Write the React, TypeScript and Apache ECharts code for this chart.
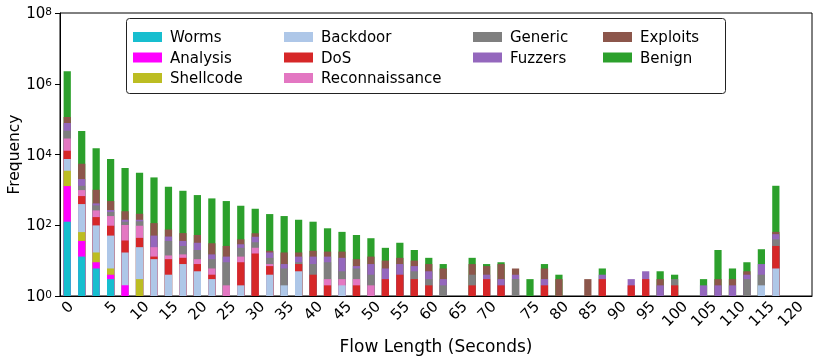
import { useEffect, useRef } from 'react';
import * as echarts from 'echarts';

const categories = ['Worms', 'Analysis', 'Shellcode', 'Backdoor', 'DoS', 'Reconnaissance', 'Generic', 'Fuzzers', 'Exploits', 'Benign'];
const colors = ['#17becf', '#ff00ff', '#bcbd22', '#aec7e8', '#d62728', '#e377c2', '#7f7f7f', '#9467bd', '#8c564b', '#2ca02c'];

// x axis slots (one per bin, plus empty room at the right)
const slotCount = 52;
const xTickIndex = [0, 3, 5, 7, 9, 11, 13, 15, 17, 19, 21, 23, 25, 27, 29, 32, 34, 36, 38, 40, 42, 44, 46, 48, 50];
const xTickLabels = ['0', '5', '10', '15', '20', '25', '30', '35', '40', '45', '50', '55', '60', '65', '70', '75', '80', '85', '90', '95', '100', '105', '110', '115', '120'];

const worms = [126, 13, 6, 3, 0, 0, 0, 0, 0, 0, 0, 0, 0, 0, 0, 0, 0, 0, 0, 0, 0, 0, 0, 0, 0, 0, 0, 0, 0, 0, 0, 0, 0, 0, 0, 0, 0, 0, 0, 0, 0, 0, 0, 0, 0, 0, 0, 0, 0, 0];
const analysis = [1154, 23, 3, 1, 2, 0, 0, 0, 0, 0, 0, 0, 0, 0, 0, 0, 0, 0, 0, 0, 0, 0, 0, 0, 0, 0, 0, 0, 0, 0, 0, 0, 0, 0, 0, 0, 0, 0, 0, 0, 0, 0, 0, 0, 0, 0, 0, 0, 0, 0];
const shellcode = [2190, 28, 8, 2, 0, 3, 0, 0, 0, 0, 0, 0, 0, 0, 0, 0, 0, 0, 0, 0, 0, 0, 0, 0, 0, 0, 0, 0, 0, 0, 0, 0, 0, 0, 0, 0, 0, 0, 0, 0, 0, 0, 0, 0, 0, 0, 0, 0, 0, 0];
const backdoor = [3950, 333, 82, 45, 15, 21, 11, 4, 8, 5, 3, 0, 2, 0, 4, 2, 5, 0, 0, 2, 0, 0, 0, 0, 0, 0, 0, 0, 0, 0, 0, 0, 0, 0, 0, 0, 0, 0, 0, 0, 0, 0, 0, 0, 0, 0, 0, 0, 2, 6];
const dos = [5280, 271, 71, 46, 20, 20, 2, 7, 4, 3, 1, 0, 7, 16, 3, 0, 3, 4, 2, 0, 2, 0, 3, 4, 3, 2, 0, 0, 2, 3, 2, 0, 0, 2, 0, 0, 0, 3, 0, 2, 3, 0, 2, 0, 0, 0, 0, 0, 0, 20];
const reconnaissance = [15800, 318, 93, 85, 64, 53, 11, 3, 3, 3, 2, 2, 4, 7, 1, 0, 0, 0, 1, 1, 1, 2, 0, 0, 0, 0, 0, 0, 0, 0, 0, 0, 0, 0, 0, 0, 0, 0, 0, 0, 0, 0, 0, 0, 0, 0, 0, 0, 0, 0];
const generic = [18200, 320, 101, 54, 25, 32, 0, 22, 11, 9, 5, 7, 10, 10, 4, 4, 1, 4, 6, 2, 3, 2, 0, 0, 2, 1, 2, 0, 2, 0, 0, 3, 0, 0, 0, 0, 0, 0, 0, 0, 0, 0, 1, 0, 0, 0, 0, 3, 2, 14];
const fuzzers = [30400, 712, 51, 33, 17, 14, 27, 12, 10, 12, 4, 4, 6, 14, 5, 2, 4, 5, 4, 7, 1, 4, 3, 4, 2, 2, 1, 0, 0, 1, 1, 1, 0, 1, 0, 0, 0, 1, 0, 1, 2, 2, 0, 0, 2, 2, 2, 1, 4, 16];
const exploits = [36900, 3442, 592, 214, 104, 68, 64, 28, 24, 21, 16, 13, 11, 12, 2, 9, 4, 6, 5, 6, 4, 5, 4, 4, 3, 3, 3, 0, 4, 3, 5, 2, 0, 3, 3, 0, 3, 0, 0, 0, 0, 1, 0, 0, 0, 1, 1, 1, 0, 9];
const benign = [2156000, 40340, 13893, 6937, 3883, 2829, 2135, 1148, 883, 660, 543, 457, 316, 233, 188, 165, 126, 107, 64, 47, 42, 30, 13, 20, 10, 4, 2, 0, 4, 1, 1, 0, 3, 2, 1, 0, 0, 2, 0, 0, 0, 2, 1, 0, 1, 17, 3, 4, 13, 1241];

const rawByCategory = [worms, analysis, shellcode, backdoor, dos, reconnaissance, generic, fuzzers, exploits, benign];

const legendColumns = [[0, 1, 2], [3, 4, 5], [6, 7], [8, 9]];

const FONT = 'DejaVu Sans';

export default function App() {
  const ref = useRef<HTMLDivElement>(null);

  useEffect(() => {
    if (!ref.current) return;
    const chart = echarts.init(ref.current, undefined, { renderer: 'svg' });

    // cumulative stack tops (bottom category first)
    const cum: number[][] = [];
    rawByCategory.forEach((arr, k) => {
      cum.push(arr.map((v, i) => v + (k > 0 ? cum[k - 1][i] : 0)));
    });

    const series = categories
      .map((name, k) => ({
        type: 'bar',
        name,
        barWidth: '50%',
        barGap: '-100%',
        itemStyle: { color: colors[k] },
        data: rawByCategory[k].map((v, i) => (v > 0 ? cum[k][i] : null)),
      }))
      .reverse();

    const slots = Array.from({ length: slotCount }, (_, i) => String(i));
    const showTick = (index: number) => xTickIndex.indexOf(index) >= 0;

    const legendLeft = [133, 284, 473, 603];

    const option: any = {
      animation: false,
      textStyle: { fontFamily: FONT },
      grid: {
        left: 60,
        right: 2,
        top: 13,
        bottom: 65,
        containLabel: false,
        outerBoundsMode: 'none',
        show: true,
        borderColor: '#000',
        borderWidth: 1,
        backgroundColor: 'transparent',
      },
      xAxis: {
        type: 'category',
        data: slots,
        boundaryGap: true,
        name: 'Flow Length (Seconds)',
        nameLocation: 'middle',
        nameGap: 41,
        nameMoveOverlap: false,
        nameTextStyle: { fontSize: 17, color: '#000', fontFamily: FONT, fontWeight: 'normal' },
        axisLine: { lineStyle: { color: '#000', width: 1 } },
        axisTick: { interval: showTick, alignWithLabel: true, length: 5, lineStyle: { color: '#000' } },
        axisLabel: {
          interval: showTick,
          rotate: 45,
          align: 'center',
          verticalAlign: 'middle',
          margin: 11,
          color: '#000',
          fontSize: 15,
          fontFamily: FONT,
          hideOverlap: false,
          formatter: (_v: string, index: number) => {
            const p = xTickIndex.indexOf(index);
            if (p < 0) return '';
            const lab = xTickLabels[p];
            return `{t${lab.length}|${lab}}`;
          },
          rich: {
            t1: { fontSize: 15, fontFamily: FONT, color: '#000' },
            t2: { fontSize: 15, fontFamily: FONT, color: '#000', padding: [4.8, 4.8, 0, 0] },
            t3: { fontSize: 15, fontFamily: FONT, color: '#000', padding: [9.5, 9.5, 0, 0] },
          },
        },
        splitLine: { show: false },
      },
      yAxis: {
        type: 'log',
        logBase: 100,
        min: 1,
        max: 1e8,
        name: 'Frequency',
        nameLocation: 'middle',
        nameGap: 38,
        nameMoveOverlap: false,
        nameTextStyle: { fontSize: 15.5, color: '#000', fontFamily: FONT },
        axisLine: { show: true, lineStyle: { color: '#000', width: 1 } },
        axisTick: { show: true, length: 5, lineStyle: { color: '#000' } },
        splitLine: { show: false },
        minorTick: { show: false },
        axisLabel: {
          margin: 8,
          color: '#000',
          formatter: (v: number) => {
            const e = Math.round(Math.log10(v));
            return `{b|10}{s|${e}}`;
          },
          rich: {
            b: { fontSize: 15, fontFamily: FONT, color: '#000', lineHeight: 15, padding: [3, 0, 3, 0] },
            s: { fontSize: 10.5, fontFamily: FONT, color: '#000', lineHeight: 11, verticalAlign: 'top' },
          },
        },
      },
      legend: legendColumns.map((cols, c) => ({
        data: cols.map((k) => categories[k]),
        orient: 'vertical',
        left: legendLeft[c],
        top: 29,
        padding: 0,
        itemWidth: 29,
        itemHeight: 10,
        itemGap: 4.5,
        icon: 'rect',
        selectedMode: false,
        textStyle: { fontSize: 15, color: '#000', fontFamily: FONT, lineHeight: 16, padding: [0, 0, 0, 3] },
      })),
      graphic: [
        {
          type: 'rect',
          left: 126,
          top: 18,
          shape: { width: 599, height: 75, r: 3 },
          style: { fill: 'rgba(255,255,255,0.8)', stroke: '#222', lineWidth: 1 },
          z: 3,
        },
      ],
      series,
    };

    chart.setOption(option);
    return () => chart.dispose();
  }, []);

  return <div ref={ref} style={{ position: 'fixed', left: 0, top: 0, width: 814, height: 361 }} />;
}
